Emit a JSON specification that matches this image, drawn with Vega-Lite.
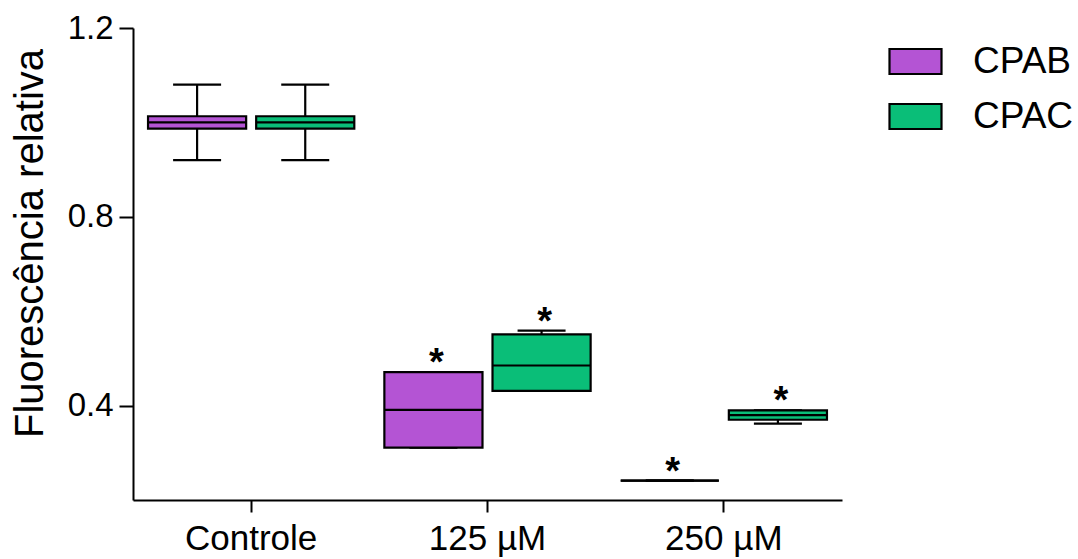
{
  "$schema": "https://vega.github.io/schema/vega-lite/v6.json",
  "width": 709,
  "height": 472,
  "autosize": {"type": "none"},
  "padding": {"left": 133, "top": 28, "right": 236, "bottom": 59},
  "background": "white",
  "config": {
    "font": "Liberation Sans",
    "view": {"stroke": null},
    "axis": {
      "domainColor": "black",
      "domainWidth": 2,
      "tickColor": "black",
      "tickWidth": 2,
      "grid": false,
      "labelColor": "black",
      "titleColor": "black",
      "labelFont": "Liberation Sans",
      "titleFont": "Liberation Sans",
      "titleFontWeight": "normal"
    }
  },
  "data": {
    "values": [
      {"dose": "Controle", "compound": "CPAB", "min": 0.92, "q1": 0.987, "median": 1.0, "q3": 1.013, "max": 1.08, "sig": ""},
      {"dose": "Controle", "compound": "CPAC", "min": 0.92, "q1": 0.987, "median": 1.0, "q3": 1.013, "max": 1.08, "sig": ""},
      {"dose": "125 µM", "compound": "CPAB", "min": 0.311, "q1": 0.311, "median": 0.391, "q3": 0.471, "max": 0.471, "sig": "*"},
      {"dose": "125 µM", "compound": "CPAC", "min": 0.431, "q1": 0.431, "median": 0.485, "q3": 0.551, "max": 0.559, "sig": "*"},
      {"dose": "250 µM", "compound": "CPAB", "min": 0.241, "q1": 0.241, "median": 0.241, "q3": 0.241, "max": 0.241, "sig": "*"},
      {"dose": "250 µM", "compound": "CPAC", "min": 0.362, "q1": 0.37, "median": 0.38, "q3": 0.39, "max": 0.39, "sig": "*"}
    ]
  },
  "encoding": {
    "x": {
      "field": "dose",
      "type": "nominal",
      "sort": ["Controle", "125 µM", "250 µM"],
      "scale": {"paddingInner": 0, "paddingOuter": 0},
      "axis": {
        "title": null,
        "labelAngle": 0,
        "labelFontSize": 35,
        "tickSize": 12,
        "labelPadding": 9
      }
    },
    "xOffset": {
      "field": "compound",
      "type": "nominal",
      "sort": ["CPAB", "CPAC"],
      "scale": {"paddingInner": 0.0926, "paddingOuter": 0.139}
    }
  },
  "layer": [
    {
      "mark": {"type": "rule", "color": "black", "strokeWidth": 2.2},
      "encoding": {
        "y": {
          "field": "min",
          "type": "quantitative",
          "scale": {"domain": [0.2, 1.2], "nice": false, "zero": false},
          "axis": {
            "values": [0.4, 0.8, 1.2],
            "format": ".1f",
            "title": "Fluorescência relativa",
            "titleFontSize": 40,
            "titleAngle": -90,
            "titleBaseline": "alphabetic",
            "titleAlign": "center",
            "titleX": -91,
            "titleY": 215,
            "labelFontSize": 33,
            "tickSize": 14,
            "labelPadding": 6
          }
        },
        "y2": {"field": "max"}
      }
    },
    {
      "mark": {"type": "tick", "color": "black", "size": 48, "thickness": 2.2, "opacity": 1},
      "encoding": {"y": {"field": "min", "type": "quantitative"}}
    },
    {
      "mark": {"type": "tick", "color": "black", "size": 48, "thickness": 2.2, "opacity": 1},
      "encoding": {"y": {"field": "max", "type": "quantitative"}}
    },
    {
      "mark": {"type": "bar", "stroke": "black", "strokeWidth": 2.2, "opacity": 1},
      "encoding": {
        "y": {"field": "q1", "type": "quantitative"},
        "y2": {"field": "q3"},
        "fill": {
          "field": "compound",
          "type": "nominal",
          "scale": {"domain": ["CPAB", "CPAC"], "range": ["#B454D4", "#0ABE78"]},
          "legend": {
            "title": null,
            "orient": "none",
            "legendX": 755,
            "legendY": 6,
            "padding": 0,
            "symbolType": "M-1,-0.48H1V0.48H-1Z",
            "symbolSize": 2704,
            "symbolStrokeColor": "black",
            "symbolStrokeWidth": 2.2,
            "symbolOpacity": 1,
            "labelFontSize": 37,
            "labelColor": "black",
            "labelOffset": 30,
            "rowPadding": 9
          }
        }
      }
    },
    {
      "mark": {"type": "tick", "color": "black", "size": 98, "thickness": 2.2, "opacity": 1},
      "encoding": {"y": {"field": "median", "type": "quantitative"}}
    },
    {
      "mark": {"type": "text", "fontSize": 38, "fontWeight": "bold", "baseline": "alphabetic", "align": "center", "dx": 3, "dy": 3, "color": "black"},
      "encoding": {
        "y": {"field": "max", "type": "quantitative"},
        "text": {"field": "sig"}
      }
    }
  ]
}
